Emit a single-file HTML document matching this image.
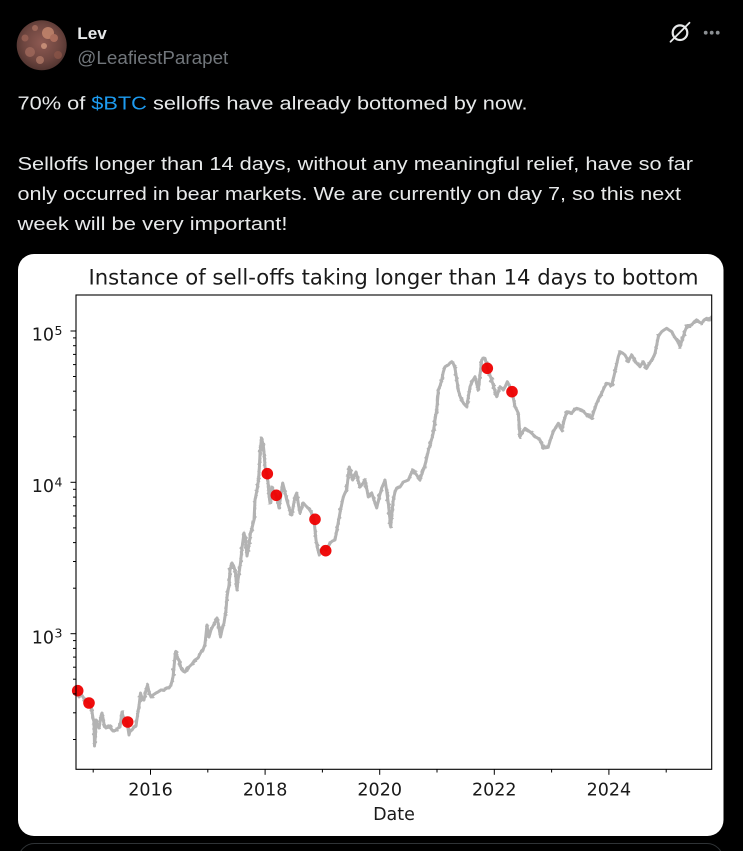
<!DOCTYPE html>
<html>
<head>
<meta charset="utf-8">
<style>
  html, body { margin: 0; padding: 0; background: #000; }
  body { width: 743px; height: 851px; overflow: hidden; }
  svg { display: block; }
</style>
</head>
<body>
<svg width="743" height="851" viewBox="0 0 743 851" xmlns="http://www.w3.org/2000/svg">
  <defs>
    <radialGradient id="av" cx="0.5" cy="0.45" r="0.6">
      <stop offset="0" stop-color="#8e5a52"/>
      <stop offset="0.6" stop-color="#6e4640"/>
      <stop offset="1" stop-color="#4a302c"/>
    </radialGradient>
    <clipPath id="avc"><circle cx="41.7" cy="45.3" r="25"/></clipPath>
    <clipPath id="plot"><rect x="76" y="295" width="635.7" height="474.3"/></clipPath>
    <filter id="jit" filterUnits="userSpaceOnUse" x="60" y="280" width="670" height="500">
      <feTurbulence type="fractalNoise" baseFrequency="0.12 0.3" numOctaves="2" seed="7" result="t"/>
      <feDisplacementMap in="SourceGraphic" in2="t" scale="5" xChannelSelector="R" yChannelSelector="G"/>
    </filter>
    <polyline id="price" fill="none" stroke-linejoin="round" stroke-linecap="round" points="
76,688 78,692 79,697 81,694 83,697 85,700 87,702 89,703 91,707 92,712 93,718 94,722 94.5,746 95.5,735 96,720 97,724 99,728 100,722 101,716 102,713 103,718 104,724 106,728 108,726 110,727 112,730 114,731 116,730 118,728 120,727 122,712 123,716 125,720 127,722 129,735 130,731 132,730 134,727 136,726 138,712 139,706 140.5,693 142,699 144,700 146,690 147.5,685 149,692 151,697 153,695 156,693 158,692 161,690 164,690 167,688 169,688 171,685 173,677 174.5,662 175.5,652 177,657 179,660 181,668 183,671 185,672 187,668 189,667 192,664 195,660 198,658 201,652 203,650 205,644 207,625 208,634 209,637 211,630 212.5,627 215,622 217,618 219,628 220.5,637 222,630 224,623 226,610 227,597 229,585 230,570 232,563 234,567 235.5,573 237,590 238,580 240.5,563 242,548 244,533 245.5,540 247,556 249,545 250.5,533 252,528 254,520
255,500 257,490 258.5,480 259.5,465 260,453 261.5,438 262.5,442 263.5,447 264.5,458 265,467 266.7,473 268,482 269,495 270,503 271,493 271.7,487 273,490 274.5,493 276,495 277.5,500 279,508 280.5,498 282.7,483 284.5,490 286.7,500 288.5,506 290,511 291.7,515 293.5,505 295,497 296.7,493 298.5,505 300,513 301.5,508 303.3,503 305,505 307,507 309,509 311,512 313,516 314,520 315,530 316,540 317.5,548 319.3,555 321,550 323.3,547 325,549 326,550 328,547 330,543 332.5,541 335,540 336.5,532 338.3,522 340.5,510 343.3,497 345,493 346.7,490 348,478 349.3,467 351,474 352.7,480 354.5,475 356,472 358,480 360,487 362.5,484 365,480 367,490 368.3,497 370,494 371.7,493 374,500 376.7,508 379,498 381.7,488 383.5,484 385,480 386.5,490 388.3,503 389.5,515 390.7,527 392,512 393.3,500 395,492 396.7,488 398.5,487 400,487 402,484 403.3,482 406,481 408.3,480 410.5,475 412.7,470 414.5,472 416.7,475 418.5,478 420,480 421.5,475 423.3,470 425,465 426.7,458 428.5,450 430,445 432,438 433.3,433 435,420 436.7,410 438,395 438.3,390 440,386 441.7,380 443.3,372 445,366.7 446.5,366 448.3,365
450,363 451.7,361.7 453.5,364 455,368.3 456.5,378 458.3,390 460,396 461.7,400 464,404 466.7,406.7 468.5,396 470,386.7 472.5,381 475,376.7 476.5,383 478.3,390 480,375 481.7,360 483.5,358 485,358.3 486.5,364 487.7,368.3 489.5,374 491.7,380 494,388 496.7,396.7 498.5,391 500,386.7 501.5,388 503.3,390 505.5,386 507.3,381.7 509.5,386 511.7,391.7 513.5,399 515,406.7 516.8,410 518.3,413.3 519.2,425 520,436.7 522.5,432 525,428.3 527.5,430 530,431.7 532.5,434 535,436.7 537.5,438 540,440 541.8,444 543.3,448.3 546,447 548.3,446.7 551,438 553.3,431.7 556,427 558.3,423.3 560,427 561.7,430 564,421 566.7,411.7 569,412 571.7,413.3 574,410 576.7,408.3 579,409 581.7,410 584,412 586.7,415 589,416 591.7,418.3 594,411 596.7,403.3 599,398 601.7,393.3 604,388 606.7,383.3 609,384 611.7,385 613.5,378 615,371.7 616.7,364 618.3,356.7 620,351.7 622.5,353 625,355 626.7,358 628.3,361.7 630,358 631.7,355 634,359 636.7,363.3 638.5,365 640,366.7 641.7,364 643.3,361.7 645,365 646.7,368.3 649,364 651.7,360 653.5,357 655,353.3 656.7,345 658.3,336.7 660,334 661.7,331.7 664,330 666.7,328.3 669,330 671.7,331.7 674,336 676.7,340 678.5,343 680,346.7 681.7,341 683.3,336.7 685,331 686.7,326.7 689,326 691.7,325 694,322 696.7,320 699,322 701.7,323.3 704,320 706.7,318.3 708.5,320 710,320 711.5,317"/>
  </defs>

  <rect x="0" y="0" width="743" height="851" fill="#000"/>

  <!-- Avatar -->
  <circle cx="41.7" cy="45.3" r="25" fill="url(#av)"/>
  <g clip-path="url(#avc)" opacity="0.8">
    <circle cx="48" cy="33" r="6" fill="#c98a70"/>
    <circle cx="54" cy="38" r="4" fill="#b87662"/>
    <circle cx="30" cy="52" r="5" fill="#a06a5c"/>
    <circle cx="40" cy="60" r="4" fill="#b07866"/>
    <circle cx="25" cy="38" r="3.5" fill="#9c6356"/>
    <circle cx="58" cy="55" r="4" fill="#8a5448"/>
    <circle cx="44" cy="46" r="3" fill="#d29a80"/>
    <circle cx="35" cy="28" r="3" fill="#a87060"/>
  </g>

  <!-- Name / handle -->
  <text x="77.3" y="39" font-family="Liberation Sans, Arial, sans-serif" font-weight="bold" font-size="17" fill="#e7e9ea" textLength="29.5" lengthAdjust="spacingAndGlyphs">Lev</text>
  <text x="77.3" y="64.2" font-family="Liberation Sans, Arial, sans-serif" font-size="18.5" fill="#71767b" textLength="151" lengthAdjust="spacingAndGlyphs">@LeafiestParapet</text>

  <!-- Top-right icons -->
  <circle cx="680" cy="32.7" r="7.3" fill="none" stroke="#e7e9ea" stroke-width="2.2"/>
  <line x1="670.5" y1="41.7" x2="689.5" y2="22.7" stroke="#e7e9ea" stroke-width="1.8" stroke-linecap="round"/>
  <circle cx="705.7" cy="32.7" r="1.9" fill="#8b8f93"/>
  <circle cx="711.7" cy="32.7" r="1.9" fill="#8b8f93"/>
  <circle cx="717.7" cy="32.7" r="1.9" fill="#8b8f93"/>

  <!-- Body text -->
  <g font-family="Liberation Sans, Arial, sans-serif" font-size="18" fill="#e7e9ea">
    <text x="17.5" y="109.3" textLength="510" lengthAdjust="spacingAndGlyphs">70% of <tspan fill="#1d9bf0">$BTC</tspan> selloffs have already bottomed by now.</text>
    <text x="17.5" y="170" textLength="675.5" lengthAdjust="spacingAndGlyphs">Selloffs longer than 14 days, without any meaningful relief, have so far</text>
    <text x="17.5" y="200" textLength="663.5" lengthAdjust="spacingAndGlyphs">only occurred in bear markets. We are currently on day 7, so this next</text>
    <text x="17.5" y="230" textLength="270" lengthAdjust="spacingAndGlyphs">week will be very important!</text>
  </g>

  <!-- Image card -->
  <rect x="18" y="254" width="705.5" height="582" rx="16" ry="16" fill="#ffffff"/>
  <!-- next element top border -->
  <rect x="18.5" y="843.5" width="704.5" height="40" rx="16" ry="16" fill="none" stroke="#2f3336" stroke-width="1"/>

  <!-- Title -->
  <text x="393.5" y="284.3" text-anchor="middle" font-family="DejaVu Sans, Liberation Sans, sans-serif" font-size="21" fill="#1a1a1a" textLength="610" lengthAdjust="spacingAndGlyphs">Instance of sell-offs taking longer than 14 days to bottom</text>

  <!-- Price line -->
  <g clip-path="url(#plot)">
    <use href="#price" stroke="#b3b3b3" stroke-width="3"/>
    <g filter="url(#jit)">
      <use href="#price" stroke="#b3b3b3" stroke-width="2.6"/>
    </g>
  </g>

  <!-- Sell-off markers -->
  <g fill="#ee0000" fill-opacity="0.95">
    <circle cx="77.7" cy="690.7" r="5.8"/>
    <circle cx="89" cy="703" r="5.8"/>
    <circle cx="127.7" cy="722" r="5.8"/>
    <circle cx="267.3" cy="473.7" r="5.8"/>
    <circle cx="276.3" cy="495.3" r="5.8"/>
    <circle cx="315" cy="519.3" r="5.8"/>
    <circle cx="325.7" cy="550.7" r="5.8"/>
    <circle cx="487.3" cy="368.3" r="5.8"/>
    <circle cx="512" cy="391.7" r="5.8"/>
  </g>

  <!-- Axes frame -->
  <rect x="76" y="295" width="635.7" height="474.3" fill="none" stroke="#000" stroke-width="1.1"/>

  <!-- Y ticks -->
  <g stroke="#000" stroke-width="1">
    <line x1="70.5" y1="331" x2="76" y2="331"/>
    <line x1="70.5" y1="482.3" x2="76" y2="482.3"/>
    <line x1="70.5" y1="633.7" x2="76" y2="633.7"/>
    <line x1="73" y1="436.8" x2="76" y2="436.8"/>
    <line x1="73" y1="410.1" x2="76" y2="410.1"/>
    <line x1="73" y1="391.2" x2="76" y2="391.2"/>
    <line x1="73" y1="376.5" x2="76" y2="376.5"/>
    <line x1="73" y1="364.6" x2="76" y2="364.6"/>
    <line x1="73" y1="354.4" x2="76" y2="354.4"/>
    <line x1="73" y1="345.7" x2="76" y2="345.7"/>
    <line x1="73" y1="337.9" x2="76" y2="337.9"/>
    <line x1="73" y1="588.2" x2="76" y2="588.2"/>
    <line x1="73" y1="561.5" x2="76" y2="561.5"/>
    <line x1="73" y1="542.6" x2="76" y2="542.6"/>
    <line x1="73" y1="527.9" x2="76" y2="527.9"/>
    <line x1="73" y1="516" x2="76" y2="516"/>
    <line x1="73" y1="505.8" x2="76" y2="505.8"/>
    <line x1="73" y1="497.1" x2="76" y2="497.1"/>
    <line x1="73" y1="489.3" x2="76" y2="489.3"/>
    <line x1="73" y1="739.5" x2="76" y2="739.5"/>
    <line x1="73" y1="712.8" x2="76" y2="712.8"/>
    <line x1="73" y1="693.9" x2="76" y2="693.9"/>
    <line x1="73" y1="679.2" x2="76" y2="679.2"/>
    <line x1="73" y1="667.2" x2="76" y2="667.2"/>
    <line x1="73" y1="657.1" x2="76" y2="657.1"/>
    <line x1="73" y1="648.4" x2="76" y2="648.4"/>
    <line x1="73" y1="640.6" x2="76" y2="640.6"/>
  </g>

  <!-- X ticks -->
  <g stroke="#000" stroke-width="1">
    <line x1="150.5" y1="769.3" x2="150.5" y2="774.8"/>
    <line x1="265.1" y1="769.3" x2="265.1" y2="774.8"/>
    <line x1="379.7" y1="769.3" x2="379.7" y2="774.8"/>
    <line x1="494.3" y1="769.3" x2="494.3" y2="774.8"/>
    <line x1="608.9" y1="769.3" x2="608.9" y2="774.8"/>
    <line x1="93.2" y1="769.3" x2="93.2" y2="772.5"/>
    <line x1="207.8" y1="769.3" x2="207.8" y2="772.5"/>
    <line x1="322.4" y1="769.3" x2="322.4" y2="772.5"/>
    <line x1="437" y1="769.3" x2="437" y2="772.5"/>
    <line x1="551.6" y1="769.3" x2="551.6" y2="772.5"/>
    <line x1="666.2" y1="769.3" x2="666.2" y2="772.5"/>
  </g>

  <!-- Tick labels -->
  <g font-family="DejaVu Sans, Liberation Sans, sans-serif" font-size="17.5" fill="#1a1a1a">
    <text x="54" y="340.7" text-anchor="end">10</text>
    <text x="54.5" y="335" font-size="12.5">5</text>
    <text x="54" y="492" text-anchor="end">10</text>
    <text x="54.5" y="486.3" font-size="12.5">4</text>
    <text x="54" y="643.4" text-anchor="end">10</text>
    <text x="54.5" y="637.7" font-size="12.5">3</text>

    <text x="150.5" y="795.7" text-anchor="middle">2016</text>
    <text x="265.1" y="795.7" text-anchor="middle">2018</text>
    <text x="379.7" y="795.7" text-anchor="middle">2020</text>
    <text x="494.3" y="795.7" text-anchor="middle">2022</text>
    <text x="608.9" y="795.7" text-anchor="middle">2024</text>

    <text x="394" y="820" text-anchor="middle">Date</text>
  </g>
</svg>
</body>
</html>
